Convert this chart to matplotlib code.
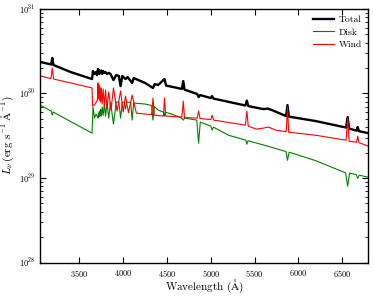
import numpy as np
import matplotlib
matplotlib.use('Agg')
import matplotlib.pyplot as plt
from matplotlib.ticker import LogLocator, NullFormatter

plt.rcParams['font.family'] = 'serif'
plt.rcParams['font.serif'] = ['cmr10', 'DejaVu Serif']
plt.rcParams['mathtext.fontset'] = 'cm'
plt.rcParams['axes.formatter.use_mathtext'] = True

# spectra, wavelength in Angstrom, L_nu in units of 1e29
disk_wave = [3050, 3178, 3190, 3202, 3400, 3644, 3655, 3672, 3690, 3712, 3718,
             3722, 3728, 3734, 3742, 3750, 3760, 3771, 3785, 3798, 3815, 3835,
             3855, 3889, 3920, 3950, 3970, 3990, 4010, 4026, 4040, 4085, 4102,
             4120, 4250, 4325, 4340, 4355, 4400, 4460, 4471, 4482, 4500, 4650,
             4686, 4700, 4840, 4861, 4880, 5000, 5016, 5030, 5200, 5400, 5412,
             5425, 5650, 5860, 5876, 5895, 6200, 6540, 6563, 6585, 6660, 6678,
             6695, 6800]
disk_lum = [7.28, 6.18, 5.54, 6.02, 4.65, 3.39, 6.90, 5.11, 5.70, 5.11, 5.85,
            5.25, 6.20, 5.40, 6.50, 5.40, 6.90, 5.50, 7.50, 5.40, 7.70, 5.11,
            7.90, 4.34, 7.90, 7.90, 5.11, 7.90, 7.90, 6.53, 7.90, 7.80, 4.84,
            7.70, 7.49, 7.20, 4.84, 7.00, 6.35, 6.02, 5.40, 6.00, 5.93, 5.25,
            4.84, 5.11, 4.84, 2.58, 4.58, 4.11, 3.68, 4.00, 3.21, 2.80, 2.51,
            2.76, 2.38, 2.05, 1.62, 2.02, 1.60, 1.15, 0.80, 1.14, 1.10, 0.99,
            1.08, 1.02]

wind_wave = [3050, 3175, 3190, 3205, 3400, 3644, 3650, 3680, 3705, 3712, 3717,
             3722, 3728, 3734, 3742, 3750, 3760, 3771, 3785, 3798, 3815, 3835,
             3860, 3889, 3930, 3970, 4000, 4026, 4060, 4102, 4150, 4250, 4325,
             4340, 4355, 4460, 4471, 4485, 4670, 4686, 4700, 4845, 4861, 4878,
             5000, 5016, 5032, 5395, 5412, 5428, 5520, 5600, 5660, 5740, 5862,
             5876, 5890, 6200, 6545, 6563, 6580, 6665, 6678, 6692, 6800]
wind_lum = [16.1, 15.0, 20.0, 14.8, 13.3, 11.6, 7.09, 7.49, 8.35, 13.3, 8.82,
            12.6, 8.35, 11.9, 7.91, 11.6, 7.49, 11.3, 7.09, 10.97, 6.71, 10.4,
            6.35, 11.6, 6.18, 10.7, 6.02, 9.31, 5.93, 9.57, 5.85, 5.70, 5.62,
            8.82, 5.54, 5.40, 8.82, 5.40, 5.25, 8.12, 5.18, 5.11, 6.18, 5.05,
            4.90, 5.54, 4.84, 4.22, 6.18, 4.11, 3.78, 3.89, 4.00, 3.68, 3.53,
            6.90, 3.48, 3.20, 2.80, 5.11, 2.72, 2.65, 3.12, 2.62, 2.38]

total_wave = [3050, 3178, 3190, 3203, 3400, 3644, 3655, 3670, 3690, 3700, 3712,
              3718, 3722, 3728, 3734, 3742, 3750, 3760, 3771, 3785, 3798, 3815,
              3835, 3855, 3889, 3920, 3950, 3970, 3990, 4026, 4050, 4102, 4120,
              4250, 4340, 4360, 4400, 4471, 4490, 4670, 4686, 4700, 4845, 4861,
              4880, 5000, 5016, 5030, 5395, 5412, 5428, 5600, 5650, 5700, 5860,
              5876, 5892, 6200, 6545, 6563, 6580, 6665, 6678, 6692, 6800]
total_lum = [23.6, 22.0, 26.3, 21.7, 17.9, 14.8, 18.4, 17.0, 17.9, 16.5, 19.4,
             17.5, 18.95, 17.0, 18.4, 17.5, 18.7, 17.0, 18.4, 17.5, 17.9, 17.0,
             17.5, 17.0, 14.4, 16.5, 16.1, 12.2, 16.1, 14.8, 15.6, 13.3, 15.2,
             13.3, 11.6, 12.9, 12.6, 14.8, 12.4, 11.3, 14.0, 11.1, 9.84, 9.06,
             9.57, 8.82, 9.31, 8.70, 7.20, 8.24, 7.09, 6.53, 6.62, 6.35, 5.40,
             7.28, 5.32, 4.71, 3.95, 5.25, 3.84, 3.63, 4.00, 3.58, 3.39]

x_ticks = [3500, 4000, 4500, 5000, 5500, 6000, 6500]

scale = 1e29

fig, ax = plt.subplots(figsize=(3.74, 2.96), dpi=100)
fig.subplots_adjust(left=0.107, right=0.985, bottom=0.113, top=0.970)

ax.plot(total_wave, np.array(total_lum) * scale, color='black', lw=1.7, label='Total')
ax.plot(disk_wave, np.array(disk_lum) * scale, color='green', lw=0.8, label='Disk')
ax.plot(wind_wave, np.array(wind_lum) * scale, color='red', lw=0.8, label='Wind')

ax.set_yscale('log')
ax.set_ylim(1e28, 1e31)
ax.set_xlim(3050, 6800)
ax.set_xticks(x_ticks)
ax.yaxis.set_major_locator(LogLocator(base=10, numticks=10))
ax.yaxis.set_minor_locator(LogLocator(base=10, subs=np.arange(2, 10), numticks=10))
ax.yaxis.set_minor_formatter(NullFormatter())

ax.tick_params(which='both', direction='in', top=True, right=True, labelsize=6)
ax.tick_params(axis='x', pad=4)
ax.tick_params(which='major', length=4, width=0.8)
ax.tick_params(which='minor', length=2, width=0.6)
for location in ['left', 'right', 'top', 'bottom']:
    ax.spines[location].set_linewidth(1.0)

ax.set_xlabel(r'$\mathrm{Wavelength\ (\AA)}$', fontsize=8, labelpad=-1)
ax.set_ylabel(r'$L_\nu\,(\mathrm{erg\ s^{-1}\ \AA^{-1}})$', fontsize=8, labelpad=2)

ax.legend(loc='upper right', frameon=False, fontsize=7, handlelength=2.2,
          handletextpad=0.4, labelspacing=0.35, borderaxespad=0.3)

fig.savefig('out.png', dpi=100)
